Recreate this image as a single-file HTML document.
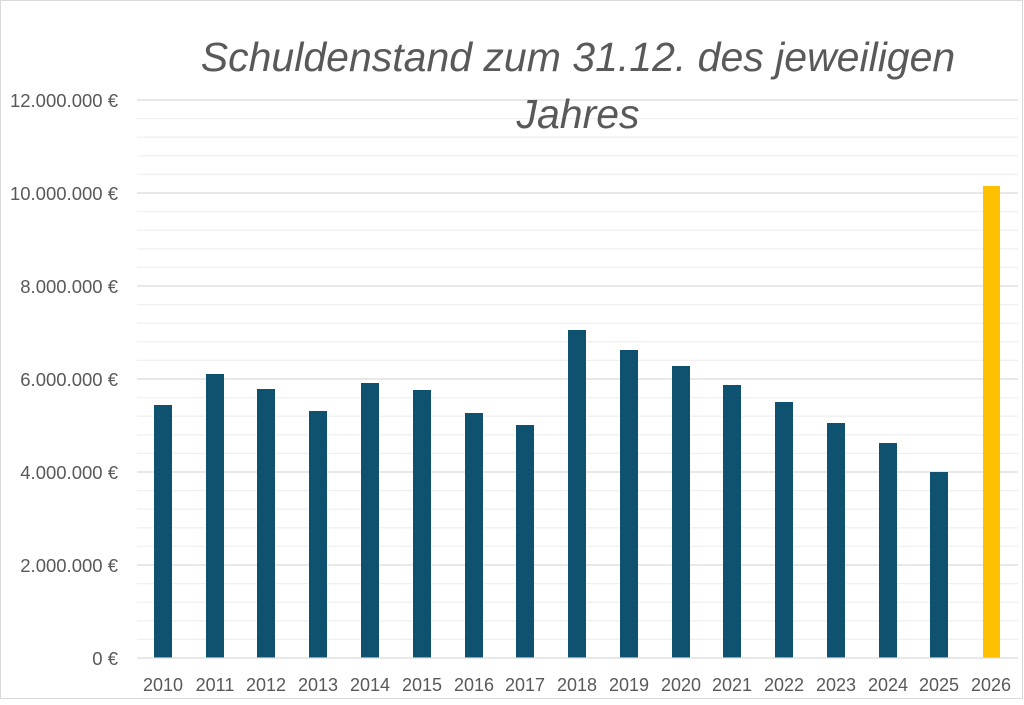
<!DOCTYPE html>
<html><head><meta charset="utf-8"><style>
html,body{margin:0;padding:0;background:#fff;}
</style></head><body>
<svg width="1024" height="700" xmlns="http://www.w3.org/2000/svg" font-family="Liberation Sans, sans-serif">
<rect x="0.5" y="0.5" width="1022" height="698" fill="#fff" stroke="#d9d9d9"/>
<g stroke="#f0f0f0" stroke-width="1.3">
<line x1="137" x2="1018" y1="639.4" y2="639.4"/><line x1="137" x2="1018" y1="620.8" y2="620.8"/><line x1="137" x2="1018" y1="602.2" y2="602.2"/><line x1="137" x2="1018" y1="583.6" y2="583.6"/>
<line x1="137" x2="1018" y1="546.4" y2="546.4"/><line x1="137" x2="1018" y1="527.8" y2="527.8"/><line x1="137" x2="1018" y1="509.2" y2="509.2"/><line x1="137" x2="1018" y1="490.6" y2="490.6"/>
<line x1="137" x2="1018" y1="453.4" y2="453.4"/><line x1="137" x2="1018" y1="434.8" y2="434.8"/><line x1="137" x2="1018" y1="416.2" y2="416.2"/><line x1="137" x2="1018" y1="397.6" y2="397.6"/>
<line x1="137" x2="1018" y1="360.4" y2="360.4"/><line x1="137" x2="1018" y1="341.8" y2="341.8"/><line x1="137" x2="1018" y1="323.2" y2="323.2"/><line x1="137" x2="1018" y1="304.6" y2="304.6"/>
<line x1="137" x2="1018" y1="267.4" y2="267.4"/><line x1="137" x2="1018" y1="248.8" y2="248.8"/><line x1="137" x2="1018" y1="230.2" y2="230.2"/><line x1="137" x2="1018" y1="211.6" y2="211.6"/>
<line x1="137" x2="1018" y1="174.4" y2="174.4"/><line x1="137" x2="1018" y1="155.8" y2="155.8"/><line x1="137" x2="1018" y1="137.2" y2="137.2"/><line x1="137" x2="1018" y1="118.6" y2="118.6"/>
</g>
<g stroke="#d9d9d9" stroke-width="1.3">
<line x1="137" x2="1018" y1="565" y2="565"/><line x1="137" x2="1018" y1="472" y2="472"/><line x1="137" x2="1018" y1="379" y2="379"/><line x1="137" x2="1018" y1="286" y2="286"/><line x1="137" x2="1018" y1="193" y2="193"/><line x1="137" x2="1018" y1="100" y2="100"/>
</g>
<g fill="#0f5270">
<rect x="154" y="405" width="18" height="253"/>
<rect x="206" y="374" width="18" height="284"/>
<rect x="257" y="389" width="18" height="269"/>
<rect x="309" y="411" width="18" height="247"/>
<rect x="361" y="383" width="18" height="275"/>
<rect x="413" y="390" width="18" height="268"/>
<rect x="465" y="413" width="18" height="245"/>
<rect x="516" y="425" width="18" height="233"/>
<rect x="568" y="330" width="18" height="328"/>
<rect x="620" y="350" width="18" height="308"/>
<rect x="672" y="366" width="18" height="292"/>
<rect x="723" y="385" width="18" height="273"/>
<rect x="775" y="402" width="18" height="256"/>
<rect x="827" y="423" width="18" height="235"/>
<rect x="879" y="443" width="18" height="215"/>
<rect x="930" y="472" width="18" height="186"/>
</g>
<rect x="983" y="186" width="17" height="472" fill="#ffc000"/>
<line x1="137" x2="1018" y1="658" y2="658" stroke="#d9d9d9" stroke-width="1.3"/>
<g fill="#595959" font-size="18.5" text-anchor="end">
<text x="118" y="665">0 €</text><text x="118" y="572">2.000.000 €</text><text x="118" y="479">4.000.000 €</text><text x="118" y="386">6.000.000 €</text><text x="118" y="293">8.000.000 €</text><text x="118" y="200">10.000.000 €</text><text x="118" y="107">12.000.000 €</text>
</g>
<g fill="#595959" font-size="18" text-anchor="middle">
<text x="163" y="691">2010</text><text x="215" y="691">2011</text><text x="266" y="691">2012</text><text x="318" y="691">2013</text><text x="370" y="691">2014</text><text x="422" y="691">2015</text><text x="474" y="691">2016</text><text x="525" y="691">2017</text><text x="577" y="691">2018</text><text x="629" y="691">2019</text><text x="681" y="691">2020</text><text x="732" y="691">2021</text><text x="784" y="691">2022</text><text x="836" y="691">2023</text><text x="888" y="691">2024</text><text x="939" y="691">2025</text><text x="991" y="691">2026</text>
</g>
<g fill="#595959" font-size="41" font-style="italic" text-anchor="middle">
<text x="578" y="71">Schuldenstand zum 31.12. des jeweiligen</text>
<text x="578" y="128">Jahres</text>
</g>
</svg>
</body></html>
